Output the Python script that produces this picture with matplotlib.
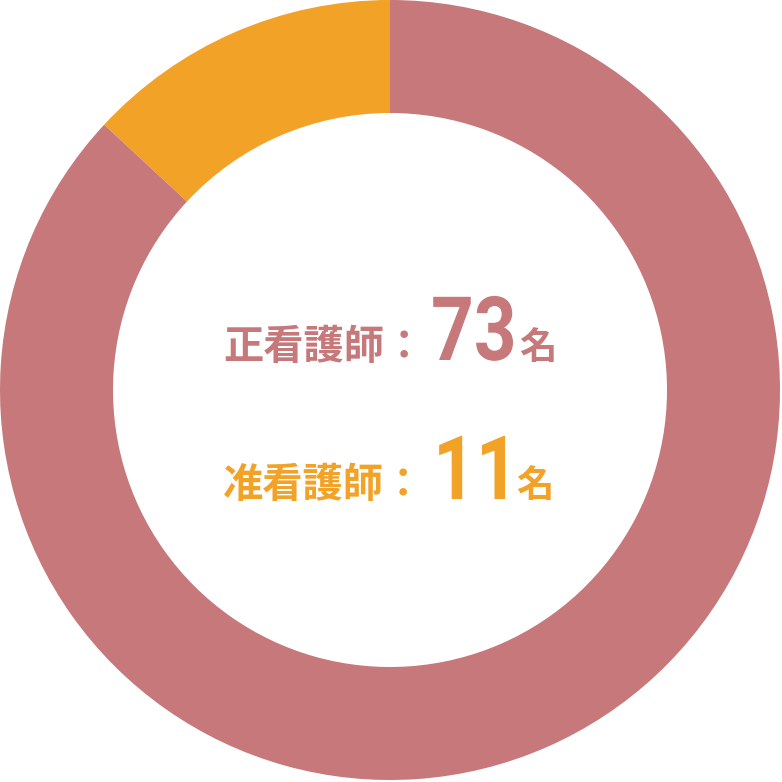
import matplotlib
matplotlib.use("Agg")
import matplotlib.pyplot as plt
from matplotlib.patheffects import AbstractPathEffect
from matplotlib.transforms import Affine2D

categories = ["准看護師", "正看護師"]
values = [11, 73]
colors = ["#F2A227", "#C6787A"]
units = "名"

W = 782
DPI = 100


class HScale(AbstractPathEffect):
    """Condense glyphs horizontally about a display x position."""
    def __init__(self, sx, x0):
        super().__init__()
        self.sx = sx
        self.x0 = x0

    def draw_path(self, renderer, gc, tpath, affine, rgbFace=None):
        a = affine + Affine2D().translate(-self.x0, 0).scale(self.sx, 1).translate(self.x0, 0)
        renderer.draw_path(gc, tpath, a, rgbFace)


fig = plt.figure(figsize=(W / DPI, W / DPI), dpi=DPI)
ax = fig.add_axes([0, 0, 1, 1])

ax.pie(values, colors=colors, startangle=90, counterclock=True,
       center=(390, W - 390), radius=390,
       wedgeprops=dict(width=113, linewidth=0))
ax.set_xlim(0, W)
ax.set_ylim(0, W)
ax.set_aspect("equal")
ax.axis("off")

cjk = ["Noto Sans CJK JP", "DejaVu Sans"]
num = ["Roboto", "DejaVu Sans"]

# (label, value, colour, cjk baseline, number baseline, number x, unit x)
rows = [(categories[1], values[1], colors[1], 359, 360, 431, 519),
        (categories[0], values[0], colors[0], 497, 499, 433, 516)]
for label, v, c, bcjk, bnum, xn, xu in rows:
    ax.text(223, W - bcjk, label + "：", family=cjk, fontsize=29, fontweight="bold",
            color=c, ha="left", va="baseline")
    ax.text(xn, W - bnum, str(v), family=num, fontsize=64, fontweight="bold",
            color=c, ha="left", va="baseline",
            path_effects=[HScale(0.84, xn)])
    ax.text(xu, W - bcjk, units, family=cjk, fontsize=27, fontweight="bold",
            color=c, ha="left", va="baseline")

fig.savefig("out.png", dpi=DPI)
